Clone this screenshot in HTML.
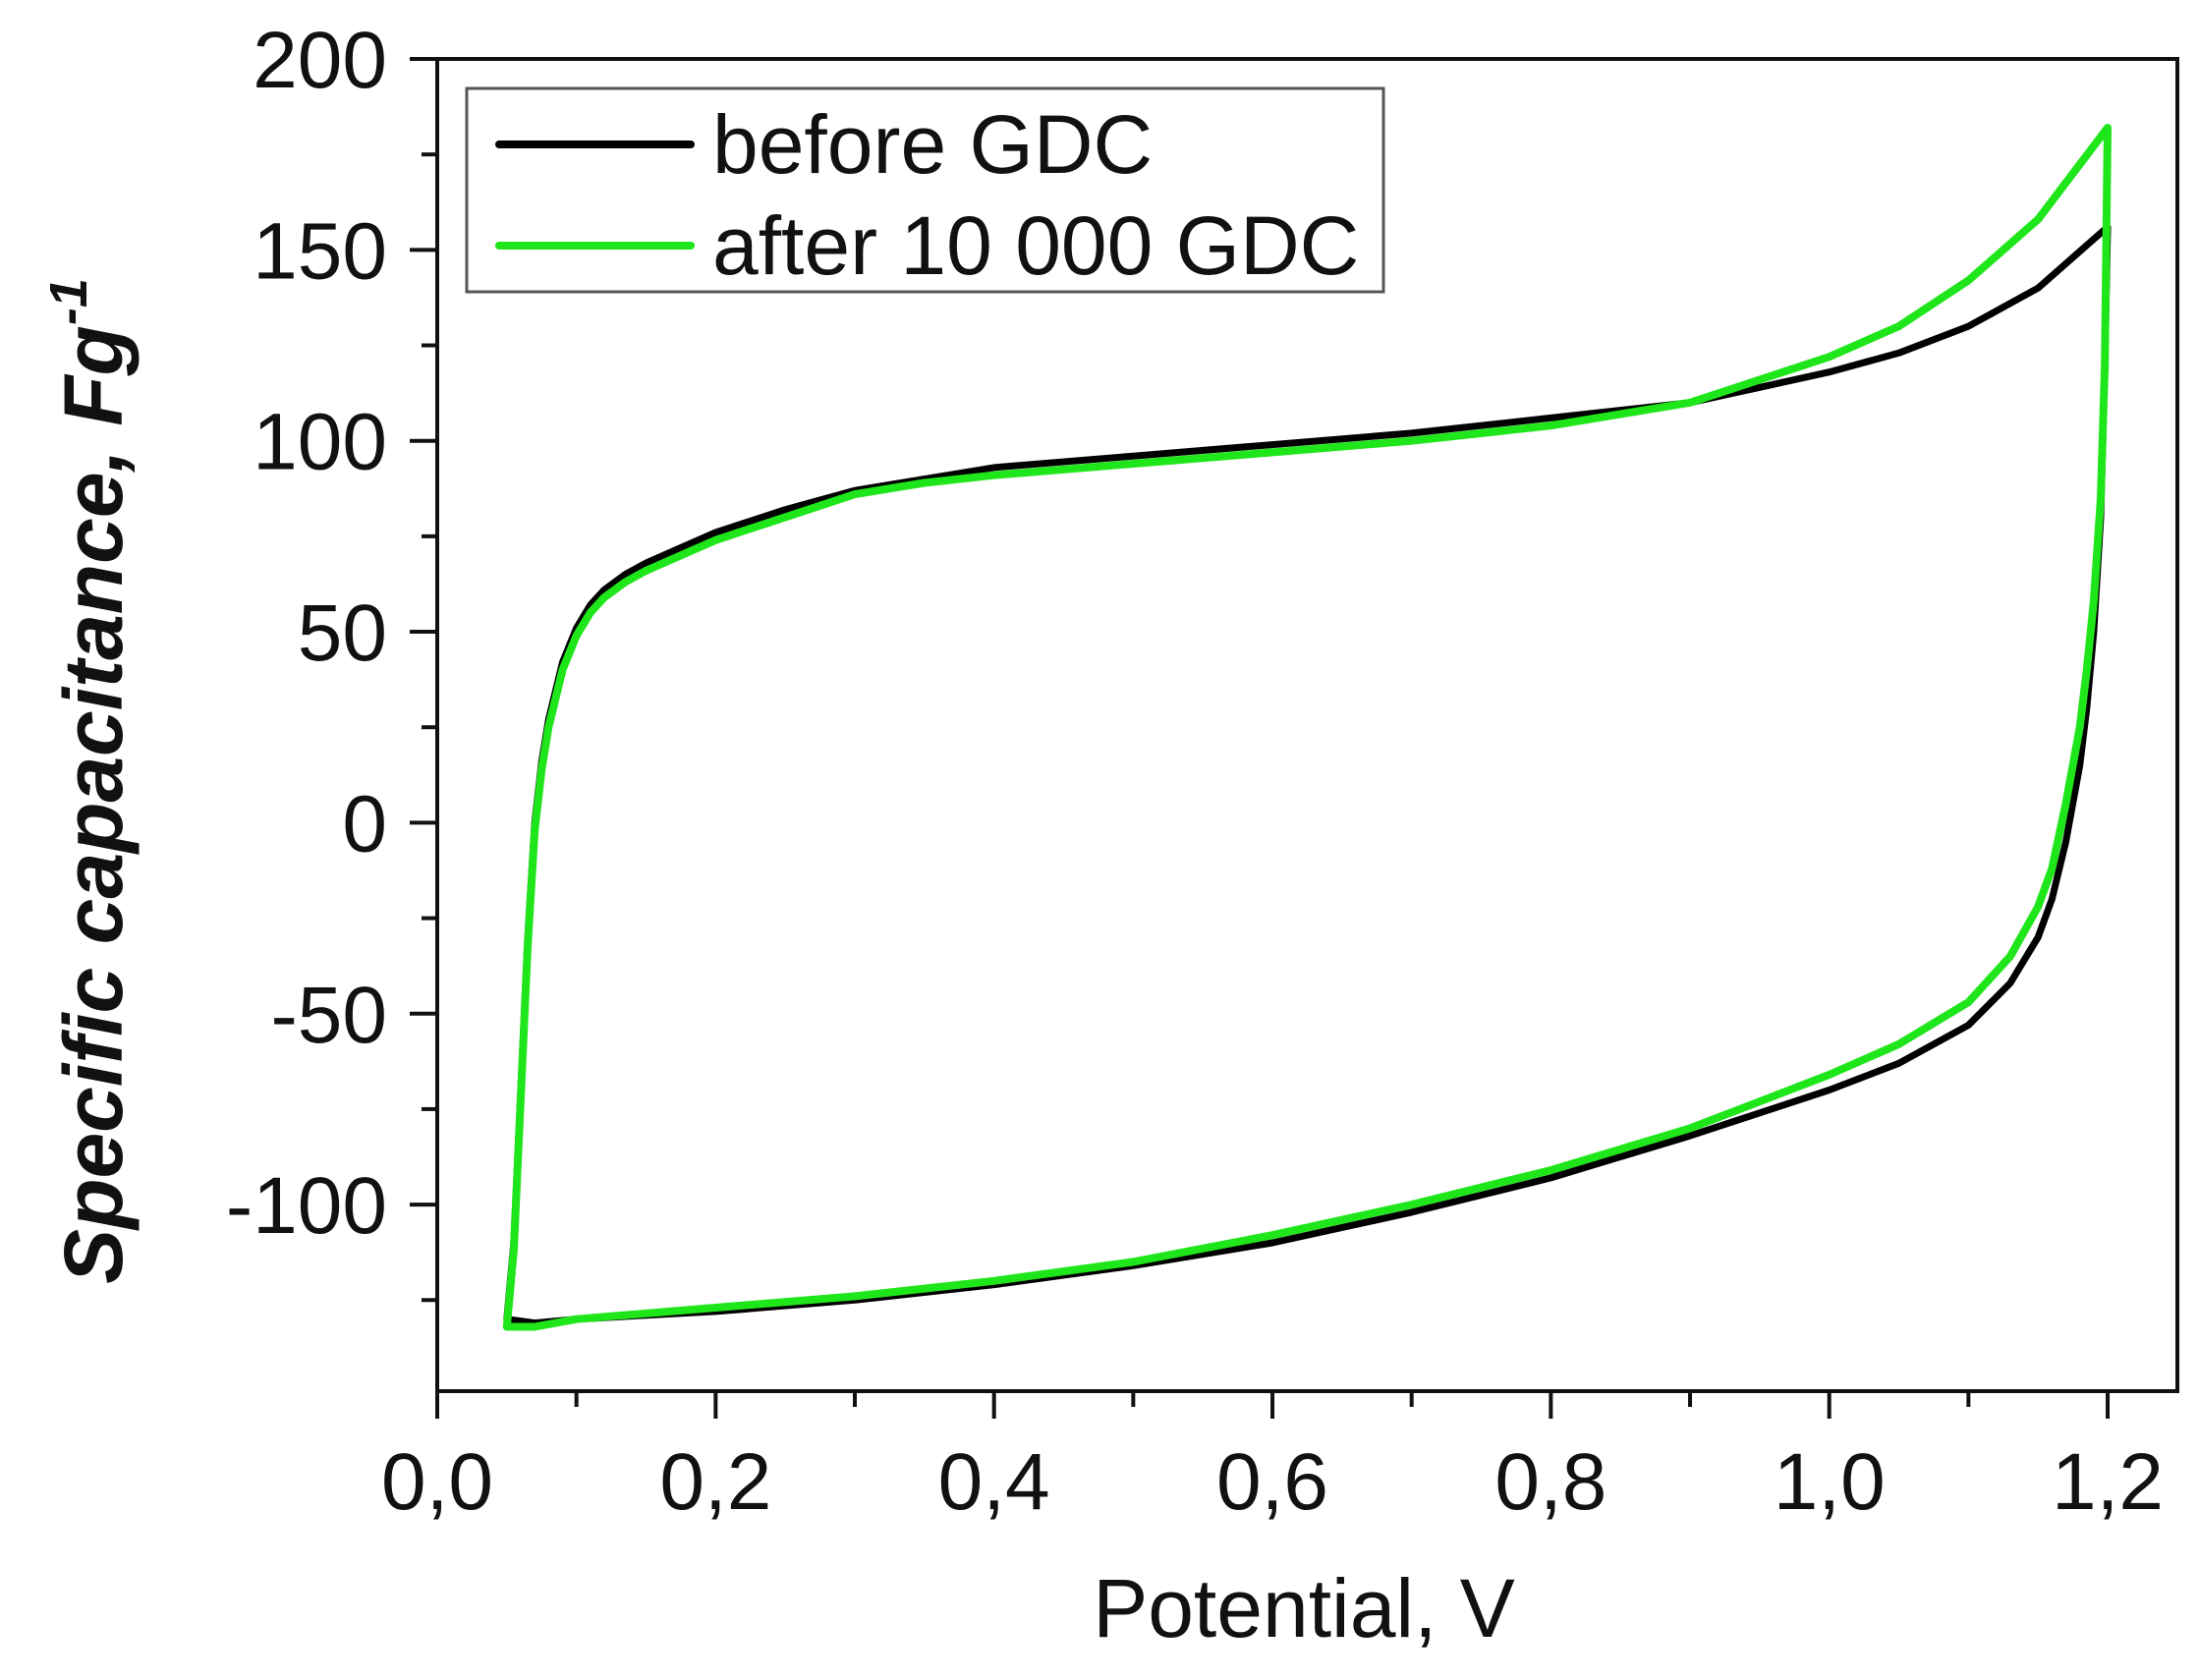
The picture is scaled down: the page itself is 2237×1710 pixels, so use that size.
<!DOCTYPE html>
<html><head><meta charset="utf-8"><style>
html,body{margin:0;padding:0;background:#fff}
svg{display:block}
text{font-family:"Liberation Sans",Arial,sans-serif;fill:#111}
</style></head><body>
<svg id="chart" width="2237" height="1710" viewBox="0 0 2237 1710" xmlns="http://www.w3.org/2000/svg">
<rect x="0" y="0" width="2237" height="1710" fill="#fff"/>
<g id="ticks"></g>
<g id="series"></g>
<rect x="445" y="60" width="1771" height="1356" fill="none" stroke="#111" stroke-width="4"/>
<g>
<rect x="475" y="90" width="933" height="207" fill="#fff" stroke="#555" stroke-width="3"/>
<line x1="508" y1="147" x2="703" y2="147" stroke="#000" stroke-width="8" stroke-linecap="round"/>
<text x="725" y="176" font-size="84">before GDC</text>
<line x1="508" y1="250" x2="703" y2="250" stroke="#1fe61a" stroke-width="8" stroke-linecap="round"/>
<text x="725" y="279" font-size="84">after 10 000 GDC</text>
</g>
<text x="1327" y="1666" font-size="84" text-anchor="middle">Potential, V</text>
<text transform="translate(124,795) rotate(-90)" font-size="84" font-weight="bold" font-style="italic" text-anchor="middle">Specific capacitance, <tspan>Fg</tspan><tspan font-size="54" dy="-36">-1</tspan></text>
</svg>
<script>
const xTicks = [0, 0.2, 0.4, 0.6, 0.8, 1.0, 1.2];
const xTickLabels = ["0,0","0,2","0,4","0,6","0,8","1,0","1,2"];
const yTicks = [200, 150, 100, 50, 0, -50, -100];
const yTickLabels = ["200","150","100","50","0","-50","-100"];
const fwdPotential = [0.05,0.055,0.06,0.065,0.07,0.075,0.08,0.09,0.1,0.11,0.12,0.135,0.15,0.175,0.2,0.25,0.3,0.35,0.4,0.5,0.6,0.7,0.8,0.9,0.95,1.0,1.05,1.1,1.15,1.2];
const beforeFwd = [-130,-110,-70,-30,0,16,27,42,51,57,61,65,68,72,76,82,87,90,93,96,99,102,106,110,114,118,123,130,140,156];
const afterFwd = [-132,-112,-72,-32,-2,14,25,40,49,55,59,63,66,70,74,80,86,89,91,94,97,100,104,110,116,122,130,142,158,182];
const revPotential = [1.2,1.198,1.195,1.19,1.185,1.18,1.17,1.16,1.15,1.13,1.1,1.05,1.0,0.95,0.9,0.8,0.7,0.6,0.5,0.4,0.3,0.2,0.1,0.07,0.05];
const beforeRev = [156,120,80,50,30,15,-5,-20,-30,-42,-53,-63,-70,-76,-82,-93,-102,-110,-116,-121,-125,-128,-130,-131,-130];
const afterRev = [182,120,85,58,40,25,5,-12,-22,-35,-47,-58,-66,-73,-80,-91,-100,-108,-115,-120,-124,-127,-130,-132,-132];

const NS = "http://www.w3.org/2000/svg";
const X0 = 445, XPX = 1416.7;
const Y0 = 60, YPX = 3.887;
function xs(v){ return X0 + v * XPX; }
function ys(v){ return Y0 + (200 - v) * YPX; }

const tg = document.getElementById('ticks');
function mk(tag, attrs){ const e = document.createElementNS(NS, tag); for (const k in attrs) e.setAttribute(k, attrs[k]); return e; }

xTicks.forEach((t, i) => {
  const x = xs(t);
  const l = mk('line', {x1:x, y1:1416, x2:x, y2:1444, stroke:'#111', 'stroke-width':4});
  
  
  tg.appendChild(l);
  const tx = mk('text', {x:x, y:1536, 'font-size':82, 'text-anchor':'middle'});
  tx.textContent = xTickLabels[i];
  
  
  tg.appendChild(tx);
  if (i < xTicks.length - 1) {
    const xm = xs(t + 0.1);
    const m = mk('line', {x1:xm, y1:1416, x2:xm, y2:1432, stroke:'#111', 'stroke-width':4});
    
    
    tg.appendChild(m);
  }
});
yTicks.forEach((t, i) => {
  const y = ys(t);
  const l = mk('line', {x1:417, y1:y, x2:445, y2:y, stroke:'#111', 'stroke-width':4});
  
  
  tg.appendChild(l);
  const tx = mk('text', {x:394, y:y + 29, 'font-size':82, 'text-anchor':'end'});
  tx.textContent = yTickLabels[i];
  
  
  tg.appendChild(tx);
  const ym = ys(t - 25);
  if (ym < 1416) {
    const m = mk('line', {x1:429, y1:ym, x2:445, y2:ym, stroke:'#111', 'stroke-width':4});
    
    
    tg.appendChild(m);
  }
});

const sg = document.getElementById('series');
function draw(fwd, rev, color, w, name){
  const pts = [];
  fwdPotential.forEach((p, i) => pts.push(xs(p).toFixed(1) + ',' + ys(fwd[i]).toFixed(1)));
  revPotential.forEach((p, i) => pts.push(xs(p).toFixed(1) + ',' + ys(rev[i]).toFixed(1)));
  const pl = mk('polyline', {points: pts.join(' '), fill:'none', stroke:color, 'stroke-width':w, 'stroke-linejoin':'round', 'stroke-linecap':'round'});
  
  
  sg.appendChild(pl);
}
draw(beforeFwd, beforeRev, '#000', 7, 'before-gdc-line');
draw(afterFwd, afterRev, '#1fe61a', 8, 'after-gdc-line');
</script>
</body></html>
